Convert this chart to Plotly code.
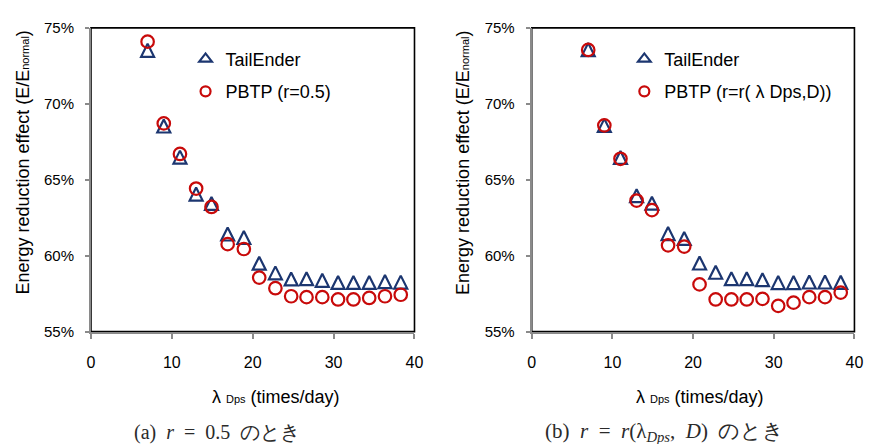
import plotly.graph_objects as go

# Daily data-session rate λ_Dps (times/day)
lambda_dps = [7.0, 9.0, 11.0, 13.0, 14.9, 16.9, 18.9, 20.8, 22.8, 24.75,
              26.65, 28.6, 30.55, 32.45, 34.4, 36.35, 38.3]

# (a) r = 0.5 : energy ratio E/E_normal in percent
tailender_a = [73.52, 68.54, 66.49, 64.06, 63.44, 61.43, 61.20, 59.51, 58.87,
               58.47, 58.49, 58.38, 58.24, 58.24, 58.24, 58.30, 58.26]
pbtp_a = [74.09, 68.71, 66.70, 64.42, 63.21, 60.76, 60.44, 58.56, 57.86,
          57.33, 57.27, 57.27, 57.12, 57.12, 57.22, 57.33, 57.43]

# (b) r = r(λ_Dps, D)
tailender_b = [73.57, 68.58, 66.47, 63.95, 63.46, 61.46, 61.14, 59.52, 58.91,
               58.49, 58.49, 58.42, 58.23, 58.23, 58.27, 58.27, 58.25]
pbtp_b = [73.55, 68.58, 66.38, 63.63, 63.00, 60.68, 60.60, 58.11, 57.12,
          57.12, 57.12, 57.16, 56.70, 56.91, 57.27, 57.27, 57.57]

legend_names_a = ["TailEnder", "PBTP (r=0.5)"]
legend_names_b = ["TailEnder", "PBTP (r=r( λ Dps,D))"]

x_ticks = [0, 10, 20, 30, 40]
y_ticks = [55, 60, 65, 70, 75]

NAVY = "#1c3670"
RED = "#c80a0a"
AXIS_GRAY = "#8a8a8a"
SANS = "Liberation Sans, Arial, sans-serif"
SERIF = "Liberation Serif, Times New Roman, serif"

TRI_SIZE = 13

W, H = 873, 444
panels = [
    dict(x0=88.3, x1=416.7, tail=tailender_a, pbtp=pbtp_a, names=legend_names_a,
         xa="x", ya="y", legend="legend", ytitle_x=19, xtitle_x=276),
    dict(x0=535.7, x1=863.3, tail=tailender_b, pbtp=pbtp_b, names=legend_names_b,
         xa="x2", ya="y2", legend="legend2", ytitle_x=466, xtitle_x=707),
]
plot_top, plot_bottom = 19.6, 335.5

fig = go.Figure()
layout = dict(
    width=W, height=H, margin=dict(l=0, r=0, t=0, b=0),
    paper_bgcolor="white", plot_bgcolor="white", showlegend=True,
    font=dict(family=SANS, color="black"),
)

shapes, annotations = [], []
for i, p in enumerate(panels):
    sfx = "" if i == 0 else "2"
    # upright open triangle: a flipped arrow head, re-centred on the point
    fig.add_trace(go.Scatter(
        x=lambda_dps, y=[v / 100 for v in p["tail"]], mode="markers",
        name=p["names"][0], xaxis=p["xa"], yaxis=p["ya"], showlegend=False,
        marker=dict(symbol="arrow-down-open", size=TRI_SIZE, angle=180,
                    standoff=TRI_SIZE / 2,
                    line=dict(color=NAVY, width=2.2), color=NAVY),
    ))
    fig.add_trace(go.Scatter(
        x=lambda_dps, y=[v / 100 for v in p["pbtp"]], mode="markers",
        name=p["names"][1], xaxis=p["xa"], yaxis=p["ya"], showlegend=False,
        marker=dict(symbol="circle-open", size=12.5,
                    line=dict(color=RED, width=2.2), color=RED),
    ))
    # legend keys (entries only, no points)
    fig.add_trace(go.Scatter(
        x=[None], y=[None], mode="markers", name=p["names"][0],
        xaxis=p["xa"], yaxis=p["ya"], legend=p["legend"], legendgroup="t" + sfx,
        marker=dict(symbol="triangle-up-open", size=11,
                    line=dict(color=NAVY, width=2.2), color=NAVY),
    ))
    fig.add_trace(go.Scatter(
        x=[None], y=[None], mode="markers", name=p["names"][1],
        xaxis=p["xa"], yaxis=p["ya"], legend=p["legend"], legendgroup="p" + sfx,
        marker=dict(symbol="circle-open", size=10,
                    line=dict(color=RED, width=2.2), color=RED),
    ))

    layout["xaxis" + sfx] = dict(
        domain=[p["x0"] / W, p["x1"] / W], range=[0, 40],
        tickvals=x_ticks, ticktext=[str(t) for t in x_ticks],
        showgrid=False, zeroline=False, showline=True, linecolor=AXIS_GRAY,
        linewidth=2, ticks="outside", ticklen=5, tickwidth=1.5, tickcolor=AXIS_GRAY,
        tickfont=dict(size=16, family=SANS, color="black"),
        ticklabelstandoff=10, anchor="y" + sfx, fixedrange=True,
    )
    layout["yaxis" + sfx] = dict(
        domain=[1 - plot_bottom / H, 1 - plot_top / H], range=[0.55, 0.75],
        tickvals=[t / 100 for t in y_ticks], ticktext=[f"{t}%" for t in y_ticks],
        showgrid=False, zeroline=False, showline=True, linecolor=AXIS_GRAY,
        linewidth=2, ticks="outside", ticklen=4, tickwidth=1.5, tickcolor=AXIS_GRAY,
        tickfont=dict(size=15, family=SANS, color="black"),
        ticklabelstandoff=8, anchor="x" + sfx, fixedrange=True,
    )
    # black plot-area frame (left/bottom edges sit under the gray axis lines)
    shapes.append(dict(type="rect", xref="x" + sfx + " domain", yref="y" + sfx + " domain",
                       x0=0, x1=1, y0=0, y1=1, layer="below",
                       line=dict(color="black", width=1.6)))
    # axis titles
    annotations.append(dict(
        xref="paper", yref="paper", x=p["ytitle_x"] / W, y=1 - 160 / H,
        xanchor="center", yanchor="middle", textangle=-90, showarrow=False,
        text="Energy reduction effect (E/E<span style='font-size:11px'>normal</span>)",
        font=dict(size=18, family=SANS, color="black"),
    ))
    annotations.append(dict(
        xref="paper", yref="paper", x=p["xtitle_x"] / W, y=1 - 403 / H,
        xanchor="center", yanchor="middle", showarrow=False,
        text="λ <span style='font-size:11px'>Dps</span> (times/day)",
        font=dict(size=18, family=SANS, color="black"),
    ))
    layout[p["legend"]] = dict(
        x=(p["x0"] + (96 if i == 0 else 94)) / W, y=1 - 33 / H,
        xanchor="left", yanchor="top", bgcolor="rgba(0,0,0,0)",
        font=dict(size=18, family=SANS, color="black"),
        traceorder="grouped", tracegroupgap=6, itemwidth=30,
    )

# sub-figure captions
annotations.append(dict(
    xref="paper", yref="paper", x=216.5 / W, y=1 - 440 / H,
    xanchor="center", yanchor="middle", showarrow=False,
    text="(a)\u2002<i>r</i>\u2002=\u20020.5\u2002のとき",
    font=dict(size=20, family=SERIF, color="#2a2a2a"),
))
annotations.append(dict(
    xref="paper", yref="paper", x=671 / W, y=1 - 440 / H,
    xanchor="center", yanchor="middle", showarrow=False,
    text="(b)\u2002<i>r</i>\u2002=\u2002<i>r</i>(λ<sub><i>Dps</i></sub>,\u2002<i>D</i>)\u2002のとき",
    font=dict(size=21, family=SERIF, color="#2a2a2a"),
))

layout["shapes"] = shapes
layout["annotations"] = annotations
fig.update_layout(**layout)
fig.write_html("out.html")
